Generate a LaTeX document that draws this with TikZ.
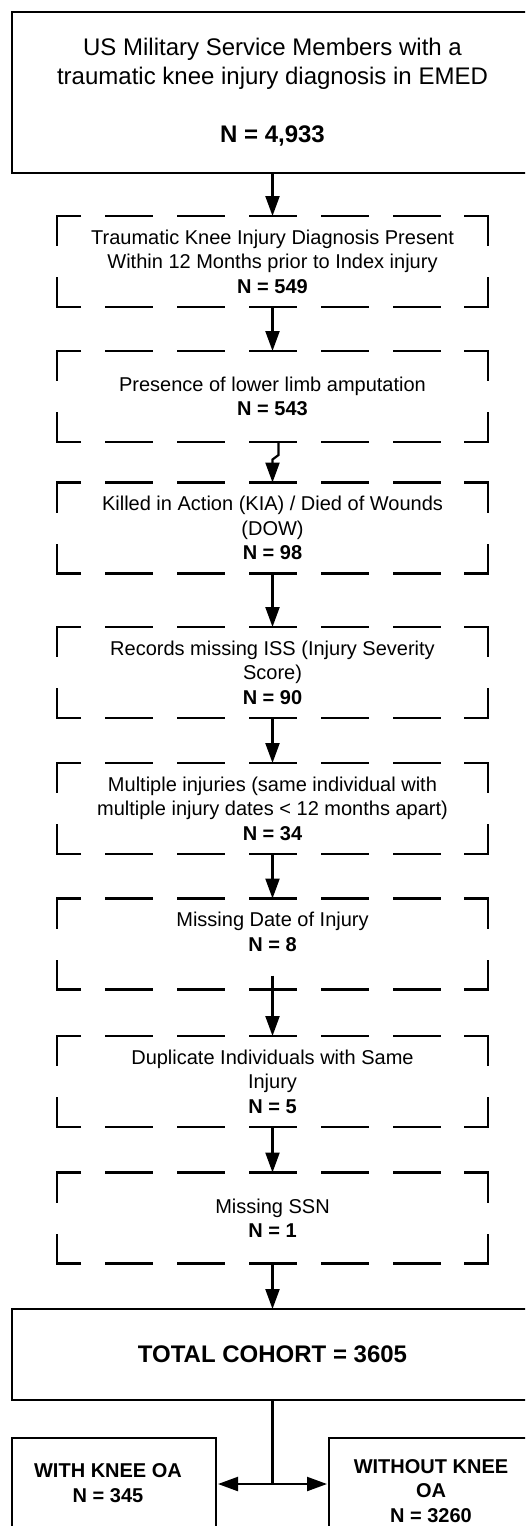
\documentclass[tikz,border=0pt]{standalone}
\usepackage{fontspec}
\setmainfont{Liberation Sans}
\usetikzlibrary{arrows.meta,calc}
\tikzset{
  every node/.style={inner sep=0pt, outer sep=0pt},
  solidbox/.style={draw, line width=2.4pt, align=center},
  dbox/.style={minimum width=431pt, minimum height=91pt, align=center, font=\fontsize{20}{24.5}\selectfont},
  framepiece/.style={line width=2.4pt},
  arr/.style={line width=2.2pt, -{Triangle[length=20pt,width=14pt]}},
  conn/.style={line width=2.2pt},
  bigfont/.style={font=\fontsize{24}{29}\selectfont},
  smallbold/.style={font=\fontsize{20}{24.5}\selectfont\bfseries, align=center},
}
\begin{document}
\begin{tikzpicture}[x=1pt,y=-1pt]
\useasboundingbox (0,0) rectangle (525,1526);
\fill[white] (0,0) rectangle (525,1526);
\clip (0,0) rectangle (525,1526);

\node[solidbox, bigfont, minimum width=521pt, minimum height=161pt] (top) at (272.5,92.5)
  {US Military Service Members with a\\traumatic knee injury diagnosis in EMED\\[29pt]\textbf{N = 4,933}};

\node[dbox] (b1) at (272.5,261.5) {Traumatic Knee Injury Diagnosis Present\\Within 12 Months prior to Index injury\\\textbf{N = 549}};
\node[dbox] (b2) at (272.5,396.5) {Presence of lower limb amputation\\\textbf{N = 543}};
\node[dbox] (b3) at (272.5,528) {Killed in Action (KIA) / Died of Wounds\\(DOW)\\\textbf{N = 98}};
\node[dbox] (b4) at (272.5,672.5) {Records missing ISS (Injury Severity\\Score)\\\textbf{N = 90}};
\node[dbox] (b5) at (272.5,808.5) {Multiple injuries (same individual with\\multiple injury dates < 12 months apart)\\\textbf{N = 34}};
\node[dbox] (b6) at (272.5,944) {Missing Date of Injury\\\textbf{N = 8}\\\phantom{N}};
\node[dbox] (b7) at (272.5,1081.5) {Duplicate Individuals with Same\\Injury\\\textbf{N = 5}};
\node[dbox] (b8) at (272.5,1218) {Missing SSN\\\textbf{N = 1}};

\foreach \n in {b1,b2,b3,b4,b5,b6,b7,b8}{
  \draw[framepiece] ($(\n.north west)+(24,0)$) -- (\n.north west) -- ($(\n.north west)+(0,30)$);
  \draw[framepiece] ($(\n.north east)+(-24,0)$) -- (\n.north east) -- ($(\n.north east)+(0,30)$);
  \draw[framepiece] ($(\n.south west)+(24,0)$) -- (\n.south west) -- ($(\n.south west)+(0,-30)$);
  \draw[framepiece] ($(\n.south east)+(-24,0)$) -- (\n.south east) -- ($(\n.south east)+(0,-30)$);
  \draw[framepiece, dash pattern=on 48pt off 24pt, dash phase=48pt] ($(\n.north west)+(24,0)$) -- ($(\n.north east)+(-24,0)$);
  \draw[framepiece, dash pattern=on 48pt off 24pt, dash phase=48pt] ($(\n.south west)+(24,0)$) -- ($(\n.south east)+(-24,0)$);
}

\node[solidbox, bigfont, minimum width=521pt, minimum height=91pt] (tc) at (272.5,1354.5) {\textbf{TOTAL COHORT = 3605}};

\node[solidbox, minimum width=204pt, minimum height=140pt, anchor=north] (oal) at (114,1438) {};
\node[smallbold] (oalt) at (108,1483) {WITH KNEE OA\\N = 345};
\node[solidbox, minimum width=204pt, minimum height=140pt, anchor=north] (oar) at (431,1438) {};
\node[smallbold] (oart) at (431,1491) {WITHOUT KNEE\\OA\\N = 3260};

\draw[arr] (top.south) -- (b1.north);
\draw[arr] (b1.south) -- (b2.north);
\draw[arr] ($(b2.south)+(6,0)$) -- ++(0,13) -- ($(b3.north)+(0,-23)$) -- (b3.north);
\draw[arr] (b3.south) -- (b4.north);
\draw[arr] (b4.south) -- (b5.north);
\draw[arr] (b5.south) -- (b6.north);
\draw[arr] ($(b6.south)+(0,-14)$) -- (b7.north);
\draw[arr] (b7.south) -- (b8.north);
\draw[arr] (b8.south) -- (tc.north);

\coordinate (j) at (272.5,1484);
\draw[conn] (tc.south) -- (j);
\draw[arr, shorten >=2pt] (j) -- (oal.east |- j);
\draw[arr, shorten >=2pt] (j) -- (oar.west |- j);
\end{tikzpicture}
\end{document}
